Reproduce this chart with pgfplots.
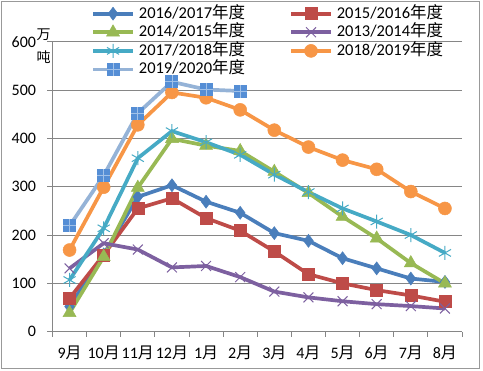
\documentclass[border=0pt]{standalone}
\usepackage{fontspec}
\setmainfont{Carlito}
\newfontfamily\cjk{Noto Sans CJK SC}
\usepackage{pgfplots}
\pgfplotsset{compat=1.18}
\definecolor{cBlue}{HTML}{4A7EBB}
\definecolor{cRed}{HTML}{BE4B48}
\definecolor{cGreen}{HTML}{98B954}
\definecolor{cPurple}{HTML}{7D60A0}
\definecolor{cTeal}{HTML}{46AAC5}
\definecolor{cOrange}{HTML}{F79646}
\definecolor{cLBline}{HTML}{95B3D7}
\definecolor{cLBmark}{HTML}{558ED5}
\definecolor{gridc}{HTML}{868686}
\colorlet{cLBcross}{white!45!cLBmark}
\pgfdeclareplotmark{sqplus}{%
  \pgfpathrectangle{\pgfqpoint{-\pgfplotmarksize}{-\pgfplotmarksize}}{\pgfqpoint{2\pgfplotmarksize}{2\pgfplotmarksize}}%
  \pgfusepathqfill
  \pgfsetlinewidth{0.8pt}%
  \pgfsetstrokecolor{cLBcross}%
  \pgfpathmoveto{\pgfqpoint{-\pgfplotmarksize}{0pt}}\pgfpathlineto{\pgfqpoint{\pgfplotmarksize}{0pt}}%
  \pgfpathmoveto{\pgfqpoint{0pt}{-\pgfplotmarksize}}\pgfpathlineto{\pgfqpoint{0pt}{\pgfplotmarksize}}%
  \pgfusepathqstroke
}
\begin{document}
\begin{tikzpicture}
\useasboundingbox (-52.5bp,-39.3bp) rectangle (430.5bp,331.7bp);
\fill[white] (-52.5bp,-39.3bp) rectangle (430.5bp,331.7bp);
\draw[gray!80, line width=1bp] (-50.5bp,-36.3bp) rectangle (426.5bp,329.7bp);
\begin{axis}[
  scale only axis, width=409.5bp, height=290bp,
  xmin=-0.5, xmax=11.5, ymin=0, ymax=600,
  ytick={0,100,...,600},
  xtick={0,...,11},
  xticklabels={{9{\cjk 月}},{10{\cjk 月}},{11{\cjk 月}},{12{\cjk 月}},{1{\cjk 月}},{2{\cjk 月}},{3{\cjk 月}},{4{\cjk 月}},{5{\cjk 月}},{6{\cjk 月}},{7{\cjk 月}},{8{\cjk 月}}},
  minor xtick={-0.5,0.5,...,11.5},
  axis x line*=bottom, axis y line*=left,
  axis line style={gridc, line width=1bp, -},
  ymajorgrids, grid style={gridc, line width=1bp},
  tick align=outside,
  major tick length=5bp, minor tick length=5bp,
  major x tick style={draw=none},
  minor x tick style={gridc, line width=1bp},
  major y tick style={gridc, line width=1bp},
  tick label style={font=\fontsize{16bp}{18bp}\selectfont},
  /pgf/number format/assume math mode=true,
  yticklabel style={xshift=-8bp},
  xticklabel style={yshift=-6bp},
  clip=false,
  legend columns=2,
  legend cell align=left,
  legend style={at={(rel axis cs:0.0867,1.13)}, anchor=north west, draw=none, fill=none,
    font=\fontsize{16.5bp}{17bp}\selectfont, row sep=3.6bp,
    nodes={inner sep=0pt, text height=12bp, text depth=3bp},
    /tikz/every odd column/.append style={column sep=4bp},
    /tikz/every even column/.append style={column sep=44bp}},
  legend image code/.code={\draw[mark repeat=2,mark phase=2,#1] plot coordinates {(0bp,0bp) (20bp,0bp) (40bp,0bp)};},
  every axis plot/.append style={line width=3.7bp},
]
\addplot[color=cBlue, mark=diamond*, mark size=6.5bp, mark options={solid, line width=0.5bp}] coordinates {
(0,52) (1,160) (2,279) (3,303) (4,269) (5,246) (6,204) (7,188) (8,152) (9,131) (10,110) (11,103)};
\addlegendentry{2016/2017{\cjk 年度}}
\addplot[color=cRed, mark=square*, mark size=6bp, mark options={solid, line width=0.5bp}] coordinates {
(0,69) (1,159) (2,255) (3,276) (4,235) (5,209) (6,166) (7,119) (8,100) (9,86) (10,75) (11,62)};
\addlegendentry{2015/2016{\cjk 年度}}
\addplot[color=cGreen, mark=triangle*, mark size=7.5bp, mark options={solid, line width=0.5bp}] coordinates {
(0,39) (1,155) (2,298) (3,399) (4,385) (5,374) (6,331) (7,287) (8,238) (9,193) (10,142) (11,100)};
\addlegendentry{2014/2015{\cjk 年度}}
\addplot[color=cPurple, mark=x, mark size=7bp, mark options={solid, line width=1bp}] coordinates {
(0,131) (1,183) (2,170) (3,133) (4,136) (5,113) (6,83) (7,71) (8,63) (9,57) (10,53) (11,48)};
\addlegendentry{2013/2014{\cjk 年度}}
\addplot[color=cTeal, mark=asterisk, mark size=7bp, mark options={solid, line width=1bp}] coordinates {
(0,107) (1,214) (2,359) (3,415) (4,392) (5,366) (6,325) (7,289) (8,255) (9,228) (10,200) (11,163)};
\addlegendentry{2017/2018{\cjk 年度}}
\addplot[color=cOrange, mark=*, mark size=6.5bp, mark options={solid, line width=0.5bp}] coordinates {
(0,169) (1,299) (2,428) (3,495) (4,484) (5,459) (6,417) (7,382) (8,355) (9,336) (10,290) (11,255)};
\addlegendentry{2018/2019{\cjk 年度}}
\addplot[color=cLBline, mark=sqplus, mark size=6.5bp, mark options={solid, fill=cLBmark}] coordinates {
(0,219) (1,323) (2,452) (3,517) (4,501) (5,498)};
\addlegendentry{2019/2020{\cjk 年度}}
\end{axis}
\node[font=\fontsize{14bp}{23bp}\selectfont\cjk, align=center, inner sep=0pt] at (-9bp,286bp) {万\\吨};
\end{tikzpicture}
\end{document}
